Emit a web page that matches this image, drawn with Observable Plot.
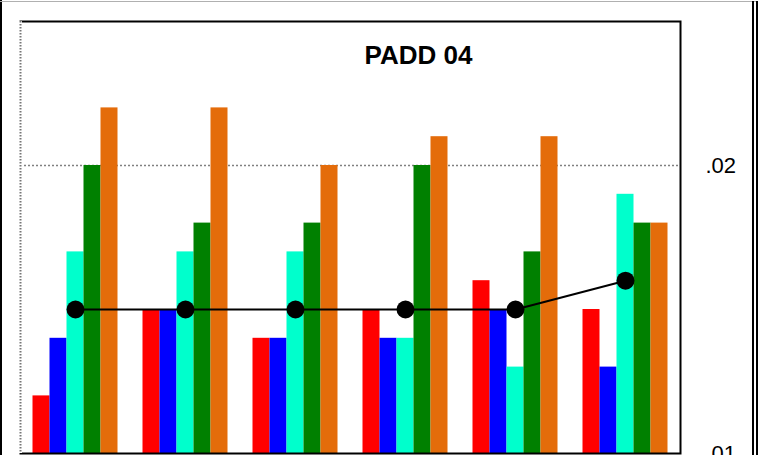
<!DOCTYPE html>
<html>
<head>
<meta charset="utf-8">
<script src="https://cdn.jsdelivr.net/npm/d3@7"></script>
<script src="https://cdn.jsdelivr.net/npm/@observablehq/plot@0.6"></script>
<style>
  html, body { margin: 0; padding: 0; background: #fff; }
  svg { display: block; }
</style>
</head>
<body>
<div id="chart"></div>
<script>
// Data
const groups = [0, 1, 2, 3, 4, 5];
const seriesNames = ["Series 1", "Series 2", "Series 3", "Series 4", "Series 5"];
const seriesColors = ["#ff0000", "#0000ff", "#00ffcc", "#008000", "#e46c0a"];
const series1Values = [0.012, 0.015, 0.014, 0.015, 0.016, 0.015];
const series2Values = [0.014, 0.015, 0.014, 0.014, 0.015, 0.013];
const series3Values = [0.017, 0.017, 0.017, 0.014, 0.013, 0.019];
const series4Values = [0.020, 0.018, 0.018, 0.020, 0.017, 0.018];
const series5Values = [0.022, 0.022, 0.020, 0.021, 0.021, 0.018];
const lineValues    = [0.015, 0.015, 0.015, 0.015, 0.015, 0.016];
const yTicks = [0.01, 0.02];
const title = "PADD 04";

const seriesValues = [series1Values, series2Values, series3Values, series4Values, series5Values];
const barW = 17 / 110;           // bar width in group units
const groupSpan = barW * seriesNames.length;
const bars = [];
groups.forEach((g, gi) => {
  seriesNames.forEach((s, si) => {
    const x1 = g - groupSpan / 2 + si * barW;
    bars.push({group: g, series: s, x1, x2: x1 + barW, value: seriesValues[si][gi]});
  });
});
const lineData = groups.map((g, i) => ({group: g, value: lineValues[i]}));

const chart = Plot.plot({
  width: 760,
  height: 455,
  marginLeft: 20,
  marginRight: 80,
  marginTop: 21,
  marginBottom: 2,
  style: {fontFamily: "Liberation Sans, Arial, sans-serif", background: "white"},
  x: {domain: [-0.5, 5.5], axis: null},
  y: {domain: [0.01, 0.025], axis: null},
  color: {domain: seriesNames, range: seriesColors},
  marks: [
    Plot.ruleY([0.02], {stroke: "#808080", strokeWidth: 1.5, strokeDasharray: "2,2"}),
    Plot.rectY(bars, {x1: "x1", x2: "x2", y1: 0.01, y2: "value", fill: "series"}),
    Plot.line(lineData, {x: "group", y: "value", stroke: "black", strokeWidth: 2}),
    Plot.dot(lineData, {x: "group", y: "value", r: 9, fill: "black"}),
    Plot.frame({stroke: "black", strokeWidth: 2}),
    Plot.ruleX([-0.5], {stroke: "white", strokeWidth: 3}),
    Plot.ruleX([-0.5], {stroke: "#777", strokeWidth: 2, strokeDasharray: "1.5,1.5"}),
    Plot.axisY(yTicks, {anchor: "right", label: null, tickSize: 0, tickPadding: 25, fontSize: 22,
      tickFormat: d => d3.format(".2f")(d).replace(/^0/, ""), fill: "black"}),
    Plot.text([title], {frameAnchor: "top", dx: 68, dy: 34, fontSize: 26, fontWeight: "bold",
      fill: "black", lineAnchor: "middle"})
  ]
});

// Outer decorative border of the picture
const svg = d3.select(chart);
const border = svg.append("g").attr("fill", "none");
border.append("line").attr("x1", 1).attr("x2", 1).attr("y1", 0).attr("y2", 455)
  .attr("stroke", "#000").attr("stroke-width", 2);
border.append("line").attr("x1", 0).attr("x2", 758).attr("y1", 1.5).attr("y2", 1.5)
  .attr("stroke", "#b0b0b0").attr("stroke-width", 1);
border.append("line").attr("x1", 753).attr("x2", 753).attr("y1", 1).attr("y2", 455)
  .attr("stroke", "#000").attr("stroke-width", 2);
border.append("line").attr("x1", 757).attr("x2", 757).attr("y1", 1).attr("y2", 455)
  .attr("stroke", "#000").attr("stroke-width", 2);

document.getElementById("chart").appendChild(chart);
</script>
</body>
</html>
